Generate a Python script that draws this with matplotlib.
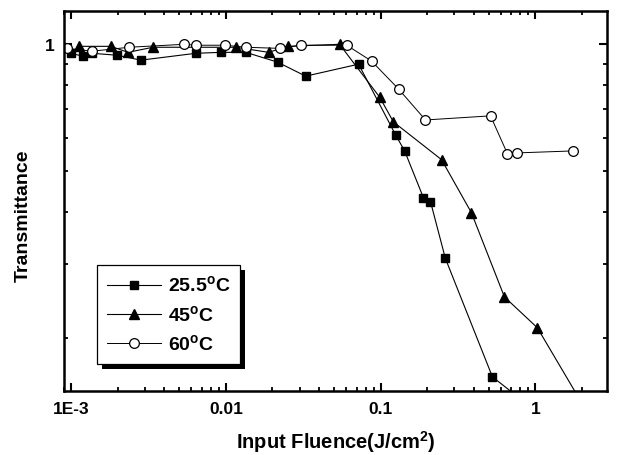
import matplotlib
matplotlib.use("Agg")
import matplotlib.pyplot as plt
from matplotlib.ticker import FixedLocator, FixedFormatter, LogLocator, NullFormatter
from matplotlib.patches import Rectangle

plt.rcParams['font.family'] = ['Liberation Sans', 'DejaVu Sans']
plt.rcParams['font.weight'] = 'bold'
plt.rcParams['mathtext.fontset'] = 'custom'
plt.rcParams['mathtext.rm'] = 'Liberation Sans:bold'
plt.rcParams['mathtext.bf'] = 'Liberation Sans:bold'

# 25.5 C
fluence_25 = [0.001, 0.00119, 0.00137, 0.00198, 0.00283, 0.0064, 0.0093, 0.01346,
              0.0216, 0.0328, 0.0721, 0.125, 0.143, 0.189, 0.210, 0.262, 0.528, 0.776]
trans_25 = [0.952, 0.937, 0.952, 0.942, 0.917, 0.952, 0.957, 0.957,
            0.907, 0.840, 0.897, 0.609, 0.558, 0.432, 0.423, 0.310, 0.162, 0.145]

# 45 C
fluence_45 = [0.00113, 0.00181, 0.00233, 0.00338, 0.0116, 0.0189, 0.0251, 0.0543,
              0.0986, 0.121, 0.2475, 0.386, 0.631, 1.03, 2.23]
trans_45 = [0.989, 0.989, 0.957, 0.984, 0.984, 0.957, 0.989, 1.0,
            0.749, 0.654, 0.532, 0.398, 0.251, 0.212, 0.131]

# 60 C
fluence_60 = [0.00094, 0.00137, 0.00237, 0.00536, 0.0064, 0.00985, 0.01346, 0.0223,
              0.0305, 0.0604, 0.0875, 0.1306, 0.195, 0.513, 0.659, 0.766, 1.758]
trans_60 = [0.978, 0.963, 0.984, 1.0, 0.995, 0.995, 0.984, 0.978,
            0.995, 0.995, 0.912, 0.783, 0.661, 0.676, 0.550, 0.552, 0.558]

x_ticks = [1e-3, 1e-2, 1e-1, 1]
x_tick_labels = ['1E-3', '0.01', '0.1', '1']

fig = plt.figure(figsize=(6.17, 4.56), dpi=100)
ax = fig.add_axes([0.1037, 0.1404, 0.880, 0.8333])

ax.plot(fluence_25, trans_25, '-', color='k', lw=0.8, marker='s', ms=6,
        mfc='k', mec='k', label=r'25.5$^{\mathrm{o}}$C')
ax.plot(fluence_45, trans_45, '-', color='k', lw=0.8, marker='^', ms=7.5,
        mfc='k', mec='k', label=r'45$^{\mathrm{o}}$C')
ax.plot(fluence_60, trans_60, '-', color='k', lw=0.7, marker='o', ms=7,
        mfc='white', mec='k', mew=0.9, label=r'60$^{\mathrm{o}}$C')

ax.set_xscale('log')
ax.set_yscale('log')
ax.set_xlim(0.0009, 2.9)
ax.set_ylim(0.15, 1.2)

ax.xaxis.set_major_locator(FixedLocator(x_ticks))
ax.xaxis.set_major_formatter(FixedFormatter(x_tick_labels))
ax.xaxis.set_minor_locator(LogLocator(base=10, subs=range(2, 10), numticks=20))
ax.xaxis.set_minor_formatter(NullFormatter())

ax.yaxis.set_major_locator(FixedLocator([1.0]))
ax.yaxis.set_major_formatter(FixedFormatter(['1']))
ax.yaxis.set_minor_locator(LogLocator(base=10, subs=range(2, 10), numticks=20))
ax.yaxis.set_minor_formatter(NullFormatter())

ax.tick_params(which='both', direction='in', top=True, right=True)
ax.tick_params(which='major', length=5.5, width=1.5, labelsize=12.5, pad=7)
ax.tick_params(which='minor', length=3, width=1.3)
for s in ax.spines.values():
    s.set_linewidth(1.8)

ax.set_xlabel(r'Input Fluence(J/cm$^{\mathrm{2}}$)', fontsize=14.5, fontweight='bold', labelpad=9)
ax.set_ylabel('Transmittance', fontsize=14, fontweight='bold')
ax.yaxis.set_label_coords(-0.059, 0.463)

leg = ax.legend(loc='lower left', bbox_to_anchor=(0.061, 0.071), borderaxespad=0,
                fontsize=14, handlelength=2.8, handletextpad=0.35, labelspacing=0.45,
                borderpad=0.5, fancybox=False, framealpha=1, edgecolor='k')
leg.get_frame().set_linewidth(0.9)
leg.set_zorder(6)

fig.canvas.draw()
bb = leg.get_window_extent().transformed(ax.transAxes.inverted())
dx = 5 / (ax.get_window_extent().width)
dy = 5 / (ax.get_window_extent().height)
ax.add_patch(Rectangle((bb.x0 + dx, bb.y0 - dy), bb.width, bb.height,
                       transform=ax.transAxes, facecolor='k', edgecolor='none', zorder=5))

fig.savefig('out.png', dpi=100)
